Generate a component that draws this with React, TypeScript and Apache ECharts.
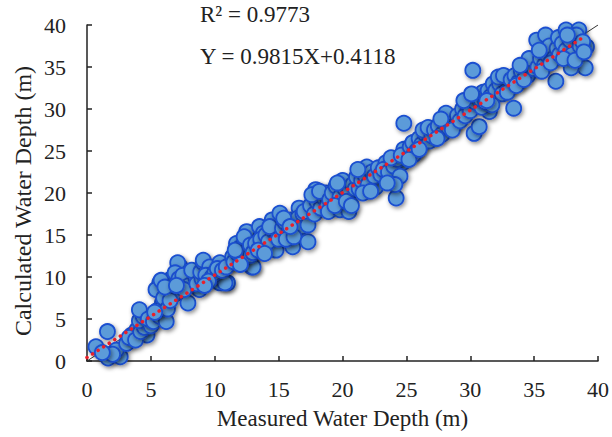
import React, { useEffect, useRef } from "react";
import * as echarts from "echarts";

const axisTicks = [0, 5, 10, 15, 20, 25, 30, 35, 40];
const xTitle = "Measured Water Depth (m)";
const yTitle = "Calculated Water Depth (m)";
const r2Text = "R² = 0.9773";
const eqText = "Y = 0.9815X+0.4118";
const regSlope = 0.9815;
const regIntercept = 0.4118;
const regRange = [0, 39];
const identityRange = [0, 40];

const pointsLow: [number, number][] = [
  [0.7, 1.7], [1.6, 3.5], [1.65, 0.35], [2.6, 0.5], [2.3, 1.3], [2.0, 0.8], [1.2, 1.0],
  [3.1, 2.1], [3.5, 3.1], [3.9, 3.7], [4.7, 3.1], [3.3, 2.8], [3.8, 2.5], [4.2, 3.5], [4.5, 4.0],
  [4.1, 4.8], [4.4, 5.3], [4.1, 6.1], [5.0, 4.2], [4.8, 5.0],
  [5.2, 4.7], [5.7, 5.3], [5.9, 6.9], [6.2, 4.7], [5.7, 9.3], [6.5, 8.5], [6.6, 9.8], [5.4, 8.5],
  [5.8, 9.6], [5.5, 6.0], [6.0, 7.5], [6.3, 6.2], [6.8, 8.0], [6.5, 7.2], [5.3, 5.8], [6.1, 8.8],
  [7.3, 11.2], [7.8, 10.5], [7.9, 6.9], [8.3, 9.3], [8.8, 8.5], [7.1, 11.7], [6.9, 10.5], [7.8, 10.0],
  [7.2, 9.8], [7.5, 10.2], [8.0, 9.0], [8.5, 10.0], [7.6, 8.5], [8.2, 10.8], [8.6, 9.2], [9.0, 9.8],
  [7.0, 9.0], [8.9, 10.6],
  [9.1, 11.7], [9.6, 10.8], [10.4, 9.3], [11.0, 9.3], [11.2, 11.7], [9.1, 12.0], [9.6, 11.2],
  [10.8, 9.3], [10.4, 11.7], [9.3, 10.2], [9.8, 10.0], [10.0, 10.5], [10.2, 11.0], [9.5, 9.5],
  [10.6, 10.8], [10.9, 11.2], [9.2, 9.0],
];

const pointsMid: [number, number][] = [
  [11.4, 12.4], [11.7, 14.0], [12.5, 15.4], [12.9, 11.2], [13.0, 11.2], [11.5, 11.8], [11.8, 12.8],
  [12.0, 13.5], [12.2, 12.0], [12.4, 13.0], [12.6, 14.2], [12.8, 12.6], [11.6, 13.2], [12.3, 14.8],
  [12.8, 13.8], [13.0, 12.9], [12.0, 11.5],
  [13.5, 16.0], [14.0, 13.6], [14.5, 16.8], [14.8, 13.2], [13.8, 15.2], [13.2, 14.0], [13.6, 14.5],
  [14.0, 15.0], [14.2, 14.2], [14.6, 15.5], [14.9, 15.0], [13.4, 13.2], [14.3, 16.0], [15.0, 14.5],
  [13.9, 12.8],
  [15.1, 17.6], [16.1, 13.6], [16.6, 18.2], [15.3, 15.8], [15.5, 16.5], [15.8, 15.2], [16.0, 16.8],
  [16.3, 15.5], [16.5, 17.0], [16.8, 16.0], [15.6, 14.5], [16.2, 14.8], [15.4, 17.0], [16.9, 17.5],
  [15.9, 16.0],
  [17.3, 14.2], [17.3, 16.2], [17.9, 20.4], [18.7, 20.0], [17.0, 17.8], [17.5, 18.5], [17.8, 17.5],
  [18.0, 19.0], [18.3, 18.2], [18.5, 19.5], [18.8, 18.5], [17.6, 19.8], [18.2, 20.2], [19.0, 19.2],
  [18.9, 17.8],
  [19.8, 18.0], [20.5, 17.8], [20.0, 21.5], [19.2, 20.0], [19.5, 20.8], [19.8, 19.5], [20.2, 20.5],
  [20.5, 20.0], [20.8, 21.0], [19.4, 18.5], [20.3, 19.0], [21.0, 20.5], [20.7, 18.5], [19.6, 21.2],
  [21.1, 21.9], [21.9, 23.1], [22.6, 20.7], [21.3, 20.5], [21.5, 21.5], [21.8, 22.0], [22.0, 21.0],
  [22.3, 22.5], [22.5, 22.0], [22.8, 23.0], [21.6, 20.0], [22.2, 20.2], [23.0, 22.2], [21.2, 22.8],
  [23.4, 23.6], [24.2, 19.4], [24.7, 23.6], [23.9, 21.9], [25.0, 24.8], [23.2, 22.8], [23.6, 22.5],
  [24.0, 23.2], [24.3, 24.0], [24.5, 22.0], [23.8, 24.2], [24.8, 25.2], [24.1, 21.0], [23.5, 21.2],
  [24.6, 24.5],
];

const pointsHigh: [number, number][] = [
  [24.8, 28.3], [25.3, 25.5], [25.5, 26.0], [25.8, 25.0], [26.0, 26.5], [26.2, 25.8], [26.5, 27.0],
  [26.8, 26.2], [25.6, 24.6], [26.3, 27.5], [27.0, 26.8], [25.2, 24.0], [26.7, 27.8], [26.0, 25.2],
  [27.2, 27.5], [27.5, 28.0], [27.8, 27.0], [28.0, 28.5], [28.3, 27.8], [28.5, 29.0], [28.8, 28.2],
  [27.4, 26.5], [28.1, 29.5], [29.0, 29.2], [27.7, 28.8], [28.6, 27.5], [29.2, 28.6],
  [30.2, 34.6], [30.3, 27.1], [30.7, 27.9], [31.5, 29.7], [29.4, 30.0], [29.6, 29.2], [29.8, 30.5],
  [30.0, 29.8], [30.4, 30.8], [30.6, 31.5], [30.9, 30.2], [29.5, 31.0], [31.0, 32.0], [30.8, 31.2],
  [31.2, 30.8], [30.1, 31.8],
  [31.4, 32.2], [31.6, 31.5], [31.8, 33.0], [32.0, 32.2], [32.3, 33.0], [32.5, 31.8], [32.8, 33.5],
  [33.0, 32.5], [31.7, 30.5], [32.2, 33.8], [32.9, 32.0], [31.3, 31.0], [32.6, 34.0],
  [33.4, 30.1], [33.2, 33.5], [33.5, 34.0], [33.8, 33.2], [34.0, 34.5], [34.3, 35.0], [34.5, 34.0],
  [34.8, 35.5], [33.6, 32.8], [34.2, 33.5], [35.0, 34.8], [34.6, 36.0], [33.9, 35.2],
  [35.2, 38.2], [35.9, 38.8], [36.7, 33.3], [35.3, 35.0], [35.5, 36.0], [35.8, 35.2], [36.0, 36.5],
  [36.2, 37.5], [36.5, 36.0], [36.8, 37.2], [35.6, 34.5], [36.3, 35.5], [37.0, 36.5], [35.4, 37.0],
  [36.9, 38.5],
  [37.5, 39.4], [38.5, 39.4], [39.0, 34.9], [39.1, 37.4], [37.9, 34.9], [37.2, 37.8], [37.5, 37.0],
  [37.8, 38.2], [38.0, 36.5], [38.3, 38.8], [38.6, 37.5], [38.8, 38.0], [37.3, 36.0], [38.2, 35.8],
  [38.9, 36.8], [37.6, 38.8],
];

const FONT = "'Times New Roman', 'Liberation Serif', serif";

export default function App() {
  const ref = useRef<HTMLDivElement>(null);
  useEffect(() => {
    if (!ref.current) return;
    const chart = echarts.init(ref.current, null, { renderer: "svg" });
    const allPoints = [...pointsLow, ...pointsMid, ...pointsHigh];
    const regLine = regRange.map((x) => [x, regSlope * x + regIntercept]);
    const idLine = identityRange.map((x) => [x, x]);
    const axisCommon = {
      type: "value" as const,
      min: 0,
      max: 40,
      interval: 5,
      splitLine: { show: false },
      axisLine: { show: true, lineStyle: { color: "#222", width: 1.5 } },
      axisTick: { show: true, inside: true, length: 5, lineStyle: { color: "#222", width: 1.5 } },
      nameLocation: "middle" as const,
      nameTextStyle: { fontFamily: FONT, fontSize: 23, color: "#222" },
    };
    chart.setOption({
      animation: false,
      backgroundColor: "#fff",
      grid: { left: 87, right: 13, top: 25, bottom: 76, containLabel: false },
      xAxis: {
        ...axisCommon,
        name: xTitle,
        nameGap: 46,
        axisLabel: {
          fontFamily: FONT, fontSize: 22, color: "#222", margin: 17,
          formatter: (v: number) => (axisTicks.includes(v) ? String(v) : ""),
        },
      },
      yAxis: {
        ...axisCommon,
        axisLabel: {
          fontFamily: FONT, fontSize: 22, color: "#222", margin: 21,
          formatter: (v: number) => (axisTicks.includes(v) ? String(v) : ""),
        },
      },
      graphic: [
        {
          type: "text", x: 23, y: 201, rotation: Math.PI / 2,
          style: {
            text: yTitle, font: `24px ${FONT}`, fill: "#222",
            align: "center", verticalAlign: "middle",
          },
        },
        {
          type: "text", x: 200, y: 14,
          style: { text: r2Text, font: `23px ${FONT}`, fill: "#222", align: "left", verticalAlign: "middle" },
        },
        {
          type: "text", x: 200, y: 56,
          style: { text: eqText, font: `23px ${FONT}`, fill: "#222", align: "left", verticalAlign: "middle" },
        },
      ],
      series: [
        {
          type: "line",
          data: idLine,
          symbol: "none",
          lineStyle: { color: "#333", width: 1 },
          z: 1,
        },
        {
          type: "scatter",
          data: allPoints,
          symbol: "circle",
          symbolSize: 15,
          itemStyle: {
            color: "#5b9bd9",
            borderColor: "#1a4fd0",
            borderWidth: 1.8,
            opacity: 1,
            shadowBlur: 4,
            shadowColor: "rgba(0,0,0,0.45)",
            shadowOffsetX: 1.5,
            shadowOffsetY: 2,
          },
          z: 2,
        },
        {
          type: "line",
          data: regLine,
          symbol: "none",
          lineStyle: { color: "#e8202a", width: 3.5, type: [0.1, 6.5], cap: "round" },
          z: 3,
        },
      ],
    });
    return () => chart.dispose();
  }, []);
  return (
    <div
      ref={ref}
      style={{ position: "fixed", left: 0, top: 0, width: 612, height: 437, background: "#fff" }}
    />
  );
}
